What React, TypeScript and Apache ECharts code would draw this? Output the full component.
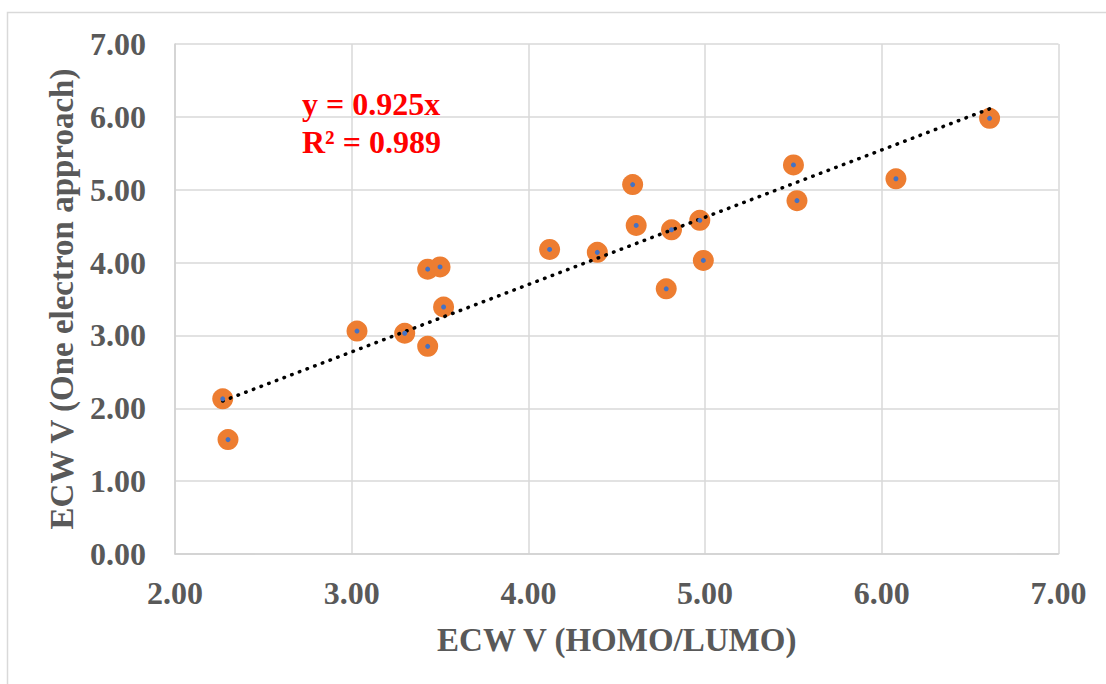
import React, { useEffect, useRef } from "react";
import * as echarts from "echarts";

const xValues = [2.27, 2.30, 3.03, 3.30, 3.43, 3.50, 3.52, 3.43, 4.12, 4.39, 4.59, 4.61, 4.81, 4.97, 4.99, 4.78, 5.50, 5.52, 6.08, 6.61];
const yValues = [2.13, 1.57, 3.06, 3.03, 3.91, 3.94, 3.39, 2.85, 4.18, 4.14, 5.07, 4.51, 4.45, 4.58, 4.03, 3.64, 5.34, 4.85, 5.15, 5.98];
const trendX = [2.27, 6.61];
const trendY = [2.10, 6.11];
const equationLines = ["y = 0.925x", "R² = 0.989"];
const xTitle = "ECW V (HOMO/LUMO)";
const yTitle = "ECW V (One electron approach)";

const FONT = "'Liberation Serif', 'Times New Roman', serif";
const GRAY = "#595959";

export default function App() {
  const ref = useRef<HTMLDivElement>(null);
  useEffect(() => {
    if (!ref.current) return;
    const chart = echarts.init(ref.current, null, { renderer: "svg" });
    const points = xValues.map((x, i) => [x, yValues[i]]);
    const trend = trendX.map((x, i) => [x, trendY[i]]);
    chart.setOption({
      animation: false,
      backgroundColor: "#ffffff",
      grid: { left: 175, right: 47.5, top: 44, bottom: 130 },
      xAxis: {
        type: "value",
        min: 2,
        max: 7,
        interval: 1,
        name: xTitle,
        nameLocation: "middle",
        nameGap: 86,
        nameTextStyle: { fontFamily: FONT, fontWeight: "bold", fontSize: 33, color: GRAY, verticalAlign: "middle" },
        axisLine: { show: true, lineStyle: { color: "#d0d0d0", width: 1.5 } },
        axisTick: { show: false },
        splitLine: { show: true, lineStyle: { color: "#d9d9d9", width: 1.5 } },
        axisLabel: {
          fontFamily: FONT, fontWeight: "bold", fontSize: 32, color: GRAY, margin: 23,
          formatter: (v: number) => v.toFixed(2),
        },
      },
      yAxis: {
        type: "value",
        min: 0,
        max: 7,
        interval: 1,
        name: yTitle,
        nameLocation: "middle",
        nameGap: 113,
        nameTextStyle: { fontFamily: FONT, fontWeight: "bold", fontSize: 33, color: GRAY, verticalAlign: "middle" },
        axisLine: { show: true, lineStyle: { color: "#d0d0d0", width: 1.5 } },
        axisTick: { show: false },
        splitLine: { show: true, lineStyle: { color: "#d9d9d9", width: 1.5 } },
        axisLabel: {
          fontFamily: FONT, fontWeight: "bold", fontSize: 32, color: GRAY, margin: 29,
          formatter: (v: number) => v.toFixed(2),
        },
      },
      graphic: [
        {
          type: "rect",
          silent: true,
          shape: { x: 7.5, y: 12.5, width: 1300, height: 900 },
          style: { fill: "none", stroke: "#d9d9d9", lineWidth: 1.5 },
          z: -10,
        },
        {
          type: "text",
          x: 302,
          y: 104,
          style: { text: equationLines[0], fill: "#ff0000", font: `bold 32px ${FONT}`, verticalAlign: "middle", align: "left" },
          z: 100,
        },
        {
          type: "text",
          x: 302,
          y: 142,
          style: { text: equationLines[1], fill: "#ff0000", font: `bold 32px ${FONT}`, verticalAlign: "middle", align: "left" },
          z: 100,
        },
      ],
      series: [
        {
          type: "scatter",
          data: points,
          symbol: "circle",
          symbolSize: 21,
          itemStyle: { color: "#ED7D31", opacity: 1 },
          z: 2,
        },
        {
          type: "line",
          data: trend,
          symbol: "none",
          lineStyle: { color: "#000000", width: 3.5, type: [0.5, 7.7], cap: "round" },
          z: 3,
        },
        {
          type: "scatter",
          data: points,
          symbol: "circle",
          symbolSize: 5,
          itemStyle: { color: "#4472C4", opacity: 1 },
          z: 4,
        },
      ],
    });
    return () => chart.dispose();
  }, []);
  return (
    <div
      ref={ref}
      style={{ position: "absolute", left: 0, top: 0, width: 1106, height: 684 }}
    />
  );
}
